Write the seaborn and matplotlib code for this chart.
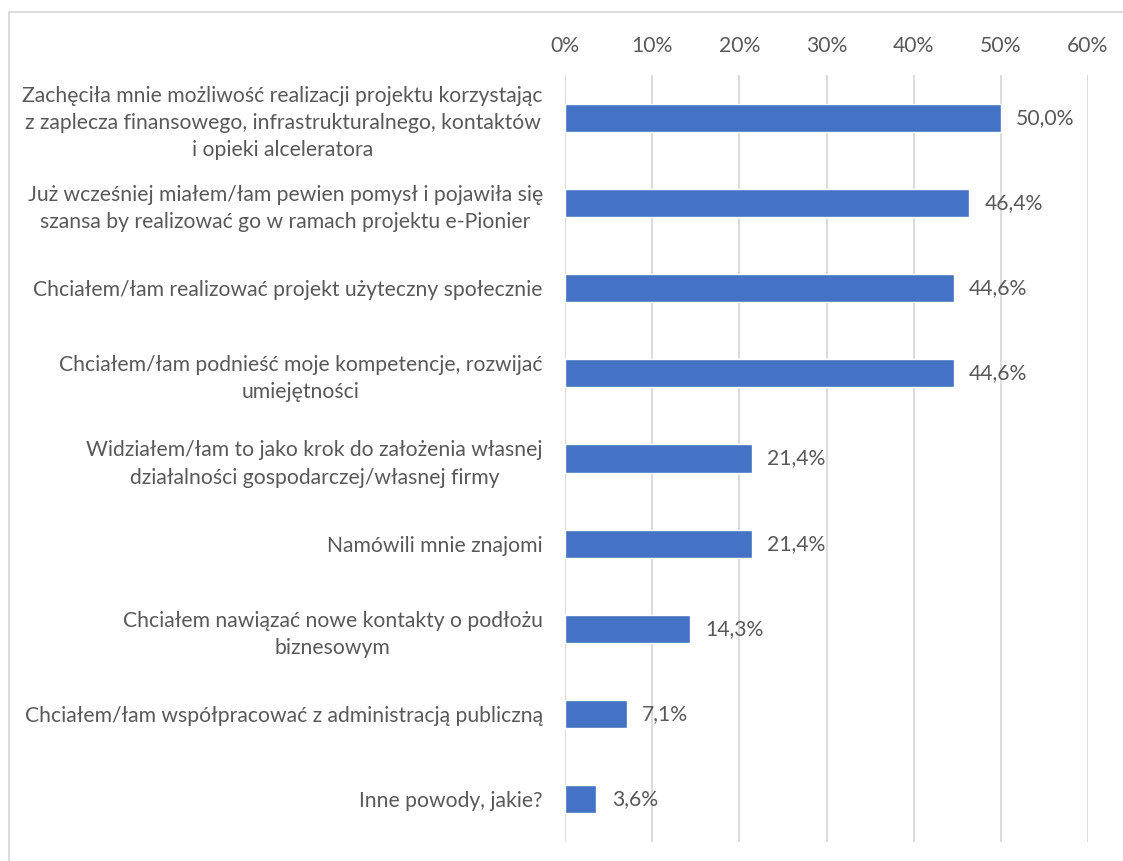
import matplotlib
matplotlib.use("Agg")
import matplotlib.pyplot as plt
import seaborn as sns
import pandas as pd
from matplotlib.patches import Rectangle
from matplotlib.ticker import FuncFormatter

categories = [
    "Zachęciła mnie możliwość realizacji projektu korzystając\nz zaplecza finansowego, infrastrukturalnego, kontaktów\ni opieki alceleratora",
    "Już wcześniej miałem/łam pewien pomysł i pojawiła się\nszansa by realizować go w ramach projektu e-Pionier",
    "Chciałem/łam realizować projekt użyteczny społecznie",
    "Chciałem/łam podnieść moje kompetencje, rozwijać\numiejętności",
    "Widziałem/łam to jako krok do założenia własnej\ndziałalności gospodarczej/własnej firmy",
    "Namówili mnie znajomi",
    "Chciałem nawiązać nowe kontakty o podłożu\nbiznesowym",
    "Chciałem/łam współpracować z administracją publiczną",
    "Inne powody, jakie?",
]
values = [50.0, 46.4, 44.6, 44.6, 21.4, 21.4, 14.3, 7.1, 3.6]
xticks = [0, 10, 20, 30, 40, 50, 60]

sns.set_theme(style="white")
plt.rcParams["font.family"] = ["Lato", "DejaVu Sans"]

TEXT = "#595959"
GRID = "#d9d9d9"
BAR = "#4472C4"
FS = 15.2

fig = plt.figure(figsize=(11.23, 8.61), dpi=100)
ax = fig.add_axes([565 / 1123, 1 - 842 / 861, (1088 - 565) / 1123, (842 - 75) / 861])

df = pd.DataFrame({"cat": categories, "val": values})
sns.barplot(data=df, x="val", y="cat", orient="h", color=BAR, width=0.33,
            saturation=1, ax=ax)

ax.set_xlim(0, 60)
ax.set_xticks(xticks)
ax.xaxis.set_major_formatter(FuncFormatter(lambda v, p: f"{int(v)}%"))
ax.xaxis.tick_top()
ax.tick_params(axis="x", length=0, pad=14, labelsize=FS, labelcolor=TEXT)
ax.tick_params(axis="y", length=0, pad=16, labelsize=FS, labelcolor=TEXT)
for lbl in ax.get_yticklabels():
    lbl.set_multialignment("center")
    lbl.set_linespacing(1.45)
ax.set_xlabel("")
ax.set_ylabel("")
ax.grid(axis="x", color=GRID, linewidth=1.3)
ax.set_axisbelow(True)
for s in ax.spines.values():
    s.set_visible(False)

for i, v in enumerate(values):
    ax.annotate(f"{v:.1f}%".replace(".", ","), xy=(v, i), xytext=(11, 0),
                textcoords="offset points", va="center", ha="left",
                fontsize=FS, color=TEXT)

fig.patches.append(Rectangle((9 / 1123, -0.05), 1.1, 1 - 12 / 861 + 0.05,
                             transform=fig.transFigure, fill=False,
                             edgecolor=GRID, linewidth=1.3))

fig.savefig("out.png", dpi=100, facecolor="white")
